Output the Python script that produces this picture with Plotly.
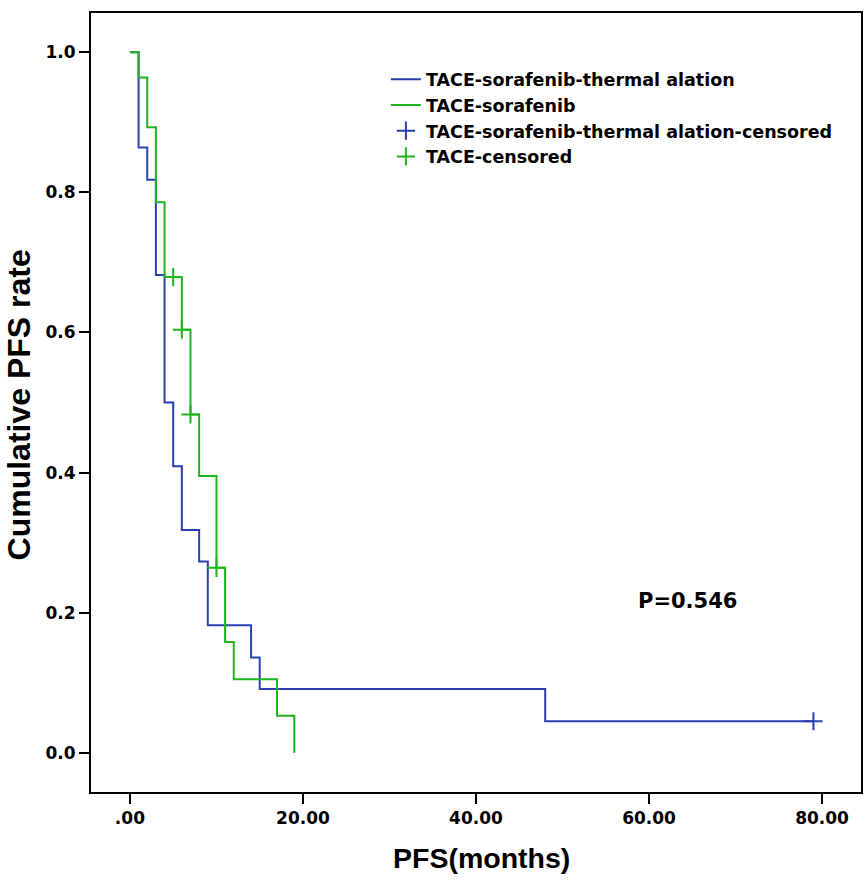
import plotly.graph_objects as go

# Kaplan-Meier steps
ablation_months = [0, 1, 2, 3, 4, 5, 6, 8, 9, 14, 15, 48, 79]
ablation_rate = [1.0, 0.864, 0.818, 0.682, 0.500, 0.409, 0.318, 0.273, 0.182, 0.136, 0.091, 0.045, 0.045]

sorafenib_months = [0, 1, 2, 3, 4, 6, 7, 8, 10, 11, 12, 17, 19]
sorafenib_rate = [1.0, 0.964, 0.893, 0.786, 0.679, 0.604, 0.483, 0.395, 0.264, 0.158, 0.105, 0.053, 0.0]

# censored observations
ablation_cens_months = [79]
ablation_cens_rate = [0.045]
sorafenib_cens_months = [5, 6, 7, 10]
sorafenib_cens_rate = [0.679, 0.604, 0.483, 0.264]

x_ticks = [0, 20, 40, 60, 80]
x_ticktext = [".00", "20.00", "40.00", "60.00", "80.00"]

p_value = "P=0.546"

BLUE = "#2a3fb0"
GREEN = "#1db51d"
bold = "DejaVu Sans"

fig = go.Figure()
fig.add_trace(go.Scatter(x=ablation_months, y=ablation_rate, mode="lines",
                         line=dict(shape="hv", color=BLUE, width=2),
                         name="TACE-sorafenib-thermal alation"))
fig.add_trace(go.Scatter(x=sorafenib_months, y=sorafenib_rate, mode="lines",
                         line=dict(shape="hv", color=GREEN, width=2),
                         name="TACE-sorafenib"))
fig.add_trace(go.Scatter(x=ablation_cens_months, y=ablation_cens_rate, mode="markers",
                         marker=dict(symbol="cross-thin", size=13, line=dict(color=BLUE, width=2)),
                         name="TACE-sorafenib-thermal alation-censored"))
fig.add_trace(go.Scatter(x=sorafenib_cens_months, y=sorafenib_cens_rate, mode="markers",
                         marker=dict(symbol="cross-thin", size=13, line=dict(color=GREEN, width=2)),
                         name="TACE-censored"))

fig.add_annotation(x=64.5, y=0.217, text="<b>" + p_value + "</b>", showarrow=False,
                   font=dict(family=bold, size=21, color="black"))

# axis titles as paper annotations so the plot frame keeps its place
fig.add_annotation(xref="paper", yref="paper", x=0.5065, y=-0.085,
                   xanchor="center", yanchor="middle", showarrow=False,
                   text="<b>PFS(months)</b>",
                   font=dict(family="Liberation Sans", size=28.5, color="black"))
fig.add_annotation(xref="paper", yref="paper", x=-0.094, y=0.497,
                   xanchor="center", yanchor="middle", showarrow=False, textangle=-90,
                   text="<b>Cumulative PFS rate</b>",
                   font=dict(family="Liberation Sans", size=32, color="black"))

axis_common = dict(showline=True, linecolor="black", linewidth=2, mirror=True,
                   ticks="outside", ticklen=10, tickwidth=2, tickcolor="black",
                   showgrid=False, zeroline=False, automargin=False,
                   tickfont=dict(family=bold, size=17, color="black", weight="bold"))

fig.update_xaxes(range=[-4.5, 84.5], tickvals=x_ticks, ticktext=x_ticktext, **axis_common)
fig.update_yaxes(range=[-0.056, 1.056], dtick=0.2, tickformat=".1f", **axis_common)

fig.update_layout(
    width=868, height=882,
    margin=dict(l=91, r=7, t=13, b=90),
    plot_bgcolor="white", paper_bgcolor="white",
    legend=dict(x=0.383, y=0.938, xanchor="left", yanchor="top",
                bgcolor="rgba(0,0,0,0)", itemwidth=30,
                font=dict(family=bold, size=17.5, color="black", weight="bold")),
)

# drop the default 8px body margin so the figure fills the window exactly
fig.write_html("out.html", config={"displayModeBar": False},
               post_script="document.body.style.margin='0';")
